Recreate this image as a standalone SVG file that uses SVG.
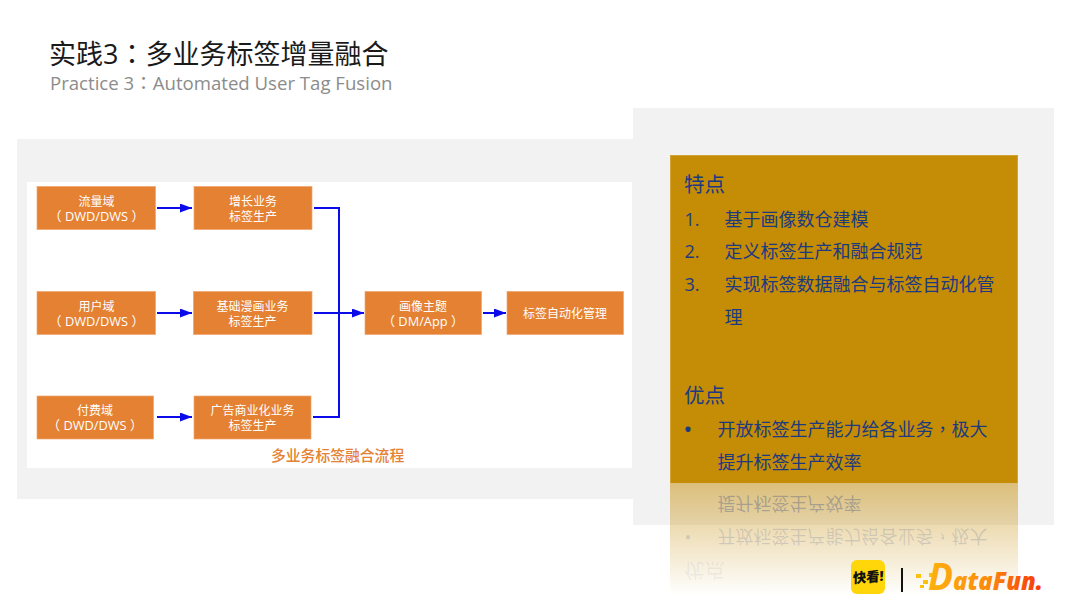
<svg xmlns="http://www.w3.org/2000/svg" width="1080" height="608" viewBox="0 0 1080 608">
<defs>
<style>
text{font-family:"Open Sans","Noto Sans CJK SC",sans-serif}
.tc{font-family:"Noto Sans CJK TC",sans-serif}
.box{fill:#e48132;stroke:#efa66f;stroke-width:.7}
.bt{font-size:12px;fill:#fff;text-anchor:middle}
.bl{font-size:12.800px}
.conn{fill:none;stroke:#0b0bea;stroke-width:2}
.h{font-size:20.500px;fill:#1c3a80}
.li{font-size:18px;fill:#1c3a80}
.rf{font-size:18px;fill:#1c3a80}
</style>
<marker id="arr" markerUnits="userSpaceOnUse" markerWidth="13" markerHeight="10" refX="12" refY="4.500" orient="auto"><path d="M0,0L12,4.500L0,9Z" fill="#0b0bea"/></marker>
<linearGradient id="fade" x1="0" y1="0" x2="0" y2="1"><stop offset="0" stop-color="#c58c05" stop-opacity=".5"/><stop offset="1" stop-color="#c58c05" stop-opacity="0"/></linearGradient>
<linearGradient id="df" gradientUnits="userSpaceOnUse" x1="930" y1="0" x2="1043" y2="0"><stop offset="0" stop-color="#fdb00f"/><stop offset=".5" stop-color="#fb8c0a"/><stop offset="1" stop-color="#f8360c"/></linearGradient>
</defs>
<rect width="1080" height="608" fill="#fff"/>
<text x="49" y="64" font-size="27" fill="#1a1a1a">实践3<tspan class="tc">：</tspan>多业务标签增量融合</text>
<text x="50" y="89.500" font-size="18.600" fill="#8c8c8c">Practice 3<tspan class="tc">：</tspan>Automated User Tag Fusion</text>
<rect x="17" y="139" width="617" height="360" fill="#f2f2f2"/>
<rect x="633" y="108" width="421" height="417" fill="#f2f2f2"/>
<rect x="27" y="182" width="605" height="286" fill="#fff"/>
<g id="connectors">
<path class="conn" marker-end="url(#arr)" d="M157,208H192"/>
<path class="conn" marker-end="url(#arr)" d="M157,313H192"/>
<path class="conn" marker-end="url(#arr)" d="M157,417H192"/>
<path class="conn" d="M314,208H339V417H313"/>
<path class="conn" marker-end="url(#arr)" d="M314,313H364"/>
<path class="conn" marker-end="url(#arr)" d="M483,313H506"/>
</g>
<g id="n1"><rect class="box" x="37" y="186.500" width="118.500" height="43"/><text class="bt"><tspan x="96.500" y="206">流量域</tspan><tspan class="bl" x="96.500" y="221">（ DWD/DWS ）</tspan></text></g>
<g id="n2"><rect class="box" x="194" y="186.500" width="118" height="43"/><text class="bt"><tspan x="253" y="206">增长业务</tspan><tspan x="253" y="221">标签生产</tspan></text></g>
<g id="n3"><rect class="box" x="37" y="291.500" width="118.500" height="43"/><text class="bt"><tspan x="96.500" y="311">用户域</tspan><tspan class="bl" x="96.500" y="326">（ DWD/DWS ）</tspan></text></g>
<g id="n4"><rect class="box" x="193.500" y="291.500" width="118.500" height="43"/><text class="bt"><tspan x="252.500" y="311">基础漫画业务</tspan><tspan x="252.500" y="326">标签生产</tspan></text></g>
<g id="n5"><rect class="box" x="37" y="396" width="116.500" height="43"/><text class="bt"><tspan x="95" y="415">付费域</tspan><tspan class="bl" x="95" y="430">（ DWD/DWS ）</tspan></text></g>
<g id="n6"><rect class="box" x="194" y="396" width="117" height="43"/><text class="bt"><tspan x="252.500" y="415">广告商业化业务</tspan><tspan x="252.500" y="430">标签生产</tspan></text></g>
<g id="n7"><rect class="box" x="365" y="291.500" width="116.500" height="43"/><text class="bt"><tspan x="423" y="311">画像主题</tspan><tspan class="bl" x="423" y="326">（ DM/App ）</tspan></text></g>
<g id="n8"><rect class="box" x="507" y="291.500" width="116.500" height="43"/><text class="bt" x="565" y="318">标签自动化管理</text></g>
<text x="271" y="461" font-size="14.800" font-weight="500" fill="#e48132">多业务标签融合流程</text>
<g id="panel">
<rect x="670" y="155" width="348" height="328" fill="#c58c05"/>
<path d="M670.500,483V155.500H1017.500V483" fill="none" stroke="#d4a435"/>
<text class="h" x="684" y="192">特点</text>
<text class="li" x="684.500" y="226">1.</text><text class="li" x="724.500" y="226">基于画像数仓建模</text>
<text class="li" x="684.500" y="258">2.</text><text class="li" x="724.500" y="258">定义标签生产和融合规范</text>
<text class="li" x="684.500" y="291">3.</text><text class="li" x="724.500" y="291">实现标签数据融合与标签自动化管</text>
<text class="li" x="724.500" y="324">理</text>
<text class="h" x="684" y="403">优点</text>
<text class="li" x="684.500" y="436" font-weight="700">•</text><text class="li" x="717.500" y="436">开放标签生产能力给各业务<tspan class="tc">，</tspan>极大</text>
<text class="li" x="717.500" y="469">提升标签生产效率</text>
</g>
<g id="reflection">
<rect x="670" y="483" width="348" height="113" fill="url(#fade)"/>
<g transform="translate(0,966) scale(1,-1)">
<text class="rf" x="717.500" y="469" fill-opacity=".3">提升标签生产效率</text>
<text class="rf" x="684.500" y="436" fill-opacity=".16">•</text>
<text class="rf" x="717.500" y="436" fill-opacity=".16">开放标签生产能力给各业务<tspan class="tc">，</tspan>极大</text>
<text class="rf" x="684" y="403" style="font-size:20.500px" fill-opacity=".08">优点</text>
</g>
</g>
<g id="logos">
<rect x="851" y="560" width="34" height="34" rx="6" fill="#ffd60a"/>
<text x="0" y="0" font-size="13.500" font-weight="900" fill="#111" text-anchor="middle" transform="translate(868 582) rotate(-5) skewX(-6)">快看!</text>
<rect x="901" y="568" width="2" height="24" fill="#111"/>
<g fill="#fcc010"><rect x="916" y="574" width="5" height="4"/><rect x="923" y="580" width="5" height="4"/><rect x="929" y="573" width="5" height="4"/><rect x="920" y="585" width="4" height="3"/><rect x="930" y="585" width="5" height="4"/></g>
<text x="928" y="590" font-size="37" font-weight="700" fill="url(#df)" style="font-family:'Open Sans',sans-serif;font-style:italic">D<tspan x="953" font-size="25" font-weight="800" textLength="90" lengthAdjust="spacingAndGlyphs">ataFun.</tspan></text>
</g>
</svg>
